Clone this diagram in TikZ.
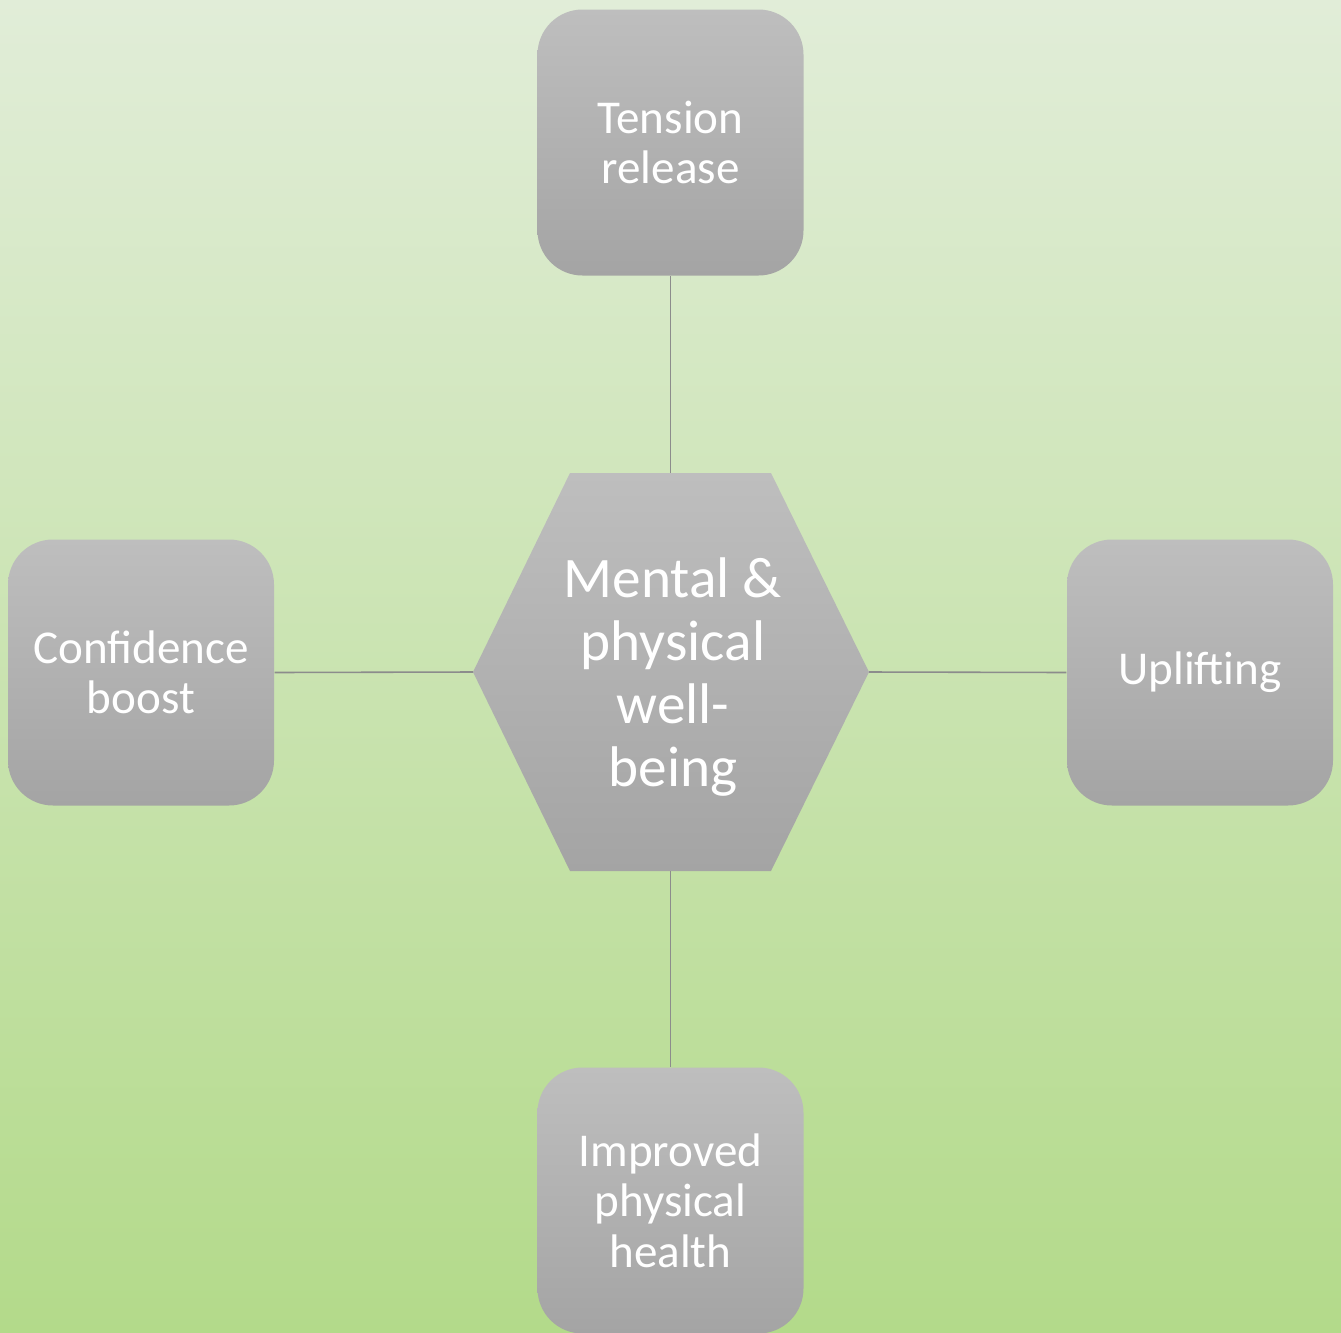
\documentclass[tikz,border=0pt]{standalone}
\usepackage{fontspec}
\setmainfont{Carlito}

\tikzset{
    sidebox/.style={shape=rectangle,rounded corners=0.45cm,minimum width=2.66cm,minimum height=2.66cm,
        top color=wb_boxtop,bottom color=wb_boxbot,text=white,align=center,inner sep=0pt,
        font=\fontsize{13.4}{14.4}\selectfont},
    hubtext/.style={text=white,align=center,inner sep=0pt,font=\fontsize{16.3}{17.9}\selectfont},
    spoke/.style={draw=wb_line,line width=0.45pt}
}

\begin{document}
\begin{tikzpicture}
    \definecolor{wb_bgtop}{RGB}{225,237,216}
    \definecolor{wb_bgbot}{RGB}{179,218,138}
    \definecolor{wb_boxtop}{RGB}{190,190,190}
    \definecolor{wb_boxbot}{RGB}{164,164,164}
    \definecolor{wb_line}{RGB}{140,140,140}
    % background
    \shade[top color=wb_bgtop,bottom color=wb_bgbot] (0,0) rectangle (13.41,-13.33);
    \useasboundingbox (0,0) rectangle (13.41,-13.33);
    % hexagon in the middle
    \coordinate (hubNW) at (5.70,-4.73);
    \coordinate (hubNE) at (7.71,-4.73);
    \coordinate (hubE)  at (8.69,-6.72);
    \coordinate (hubSE) at (7.71,-8.71);
    \coordinate (hubSW) at (5.70,-8.71);
    \coordinate (hubW)  at (4.73,-6.72);
    \coordinate (hubN)  at (6.705,-4.73);
    \coordinate (hubS)  at (6.705,-8.71);
    \shade[top color=wb_boxtop,bottom color=wb_boxbot] (hubNW) -- (hubNE) -- (hubE) -- (hubSE) -- (hubSW) -- (hubW) -- cycle;
    \node[hubtext] (hub) at (6.73,-6.77) {Mental \&\\physical\\well-\\being};
    % the four boxes
    \node[sidebox] (tension)    at (6.705,-1.425)  {Tension\\release};
    \node[sidebox] (confidence) at (1.41,-6.725)   {Confidence\\boost};
    \node[sidebox] (uplifting)  at (12.0,-6.725)   {\raisebox{-0.6mm}{Uplifting}};
    \node[sidebox] (improved)   at (6.705,-12.005) {Improved\\physical\\health};
    % spokes
    \draw[spoke] (tension.south) -- (hubN);
    \draw[spoke] (improved.north) -- (hubS);
    \draw[spoke] (confidence.east) -- (hubW);
    \draw[spoke] (uplifting.west) -- (hubE);
\end{tikzpicture}
\end{document}
